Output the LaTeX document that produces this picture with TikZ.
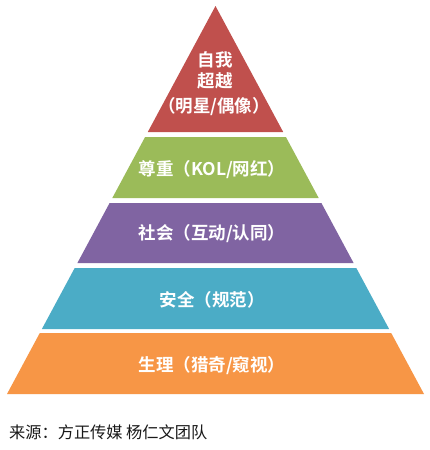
\documentclass[tikz,border=0pt]{standalone}
\usepackage{fontspec}
\setmainfont{Noto Sans CJK SC}
\newfontfamily\cjk{Noto Sans CJK SC}
\newfontfamily\cjkb{Noto Sans CJK SC Bold}
\definecolor{cred}{HTML}{C0504D}
\definecolor{cgreen}{HTML}{9BBB59}
\definecolor{cpurple}{HTML}{8064A2}
\definecolor{ccyan}{HTML}{4BACC6}
\definecolor{corange}{HTML}{F79646}
\tikzset{
  layer/.style={draw=none},
  lbl/.style={text=white, font=\cjkb\fontsize{17.5}{21}\selectfont, align=center, inner sep=0pt},
  src/.style={text=black!90, font=\cjk\fontsize{16.2}{19}\selectfont, anchor=west, inner sep=0pt}
}
\begin{document}
\begin{tikzpicture}[x=1pt,y=-1pt]
\useasboundingbox (0,0) rectangle (430,450);
\fill[white] (0,0) rectangle (430,450);
% layers (apex at 215.5,6; base 7..424 at y=394)
\fill[cred, layer] (215.5,6) -- (283.2,132) -- (147.8,132) -- cycle;
\fill[cgreen, layer] (145.1,137) -- (285.9,137) -- (318.7,198) -- (112.3,198) -- cycle;
\fill[cpurple, layer] (109.6,203) -- (321.4,203) -- (353.6,263) -- (77.4,263) -- cycle;
\fill[ccyan, layer] (74.7,268) -- (356.3,268) -- (389.1,329) -- (41.9,329) -- cycle;
\fill[corange, layer] (39.8,333) -- (391.2,333) -- (424,394) -- (7,394) -- cycle;
% labels
\node[lbl] (t1a) at (215,60) {自我};
\node[lbl] (t1b) at (215,81) {超越};
\node[lbl] (t1c) at (214,107) {（明星/偶像）};
\node[lbl] (t2) at (212,170) {尊重（KOL/网红）};
\node[lbl] (t3) at (212,234) {社会（互动/认同）};
\node[lbl] (t4) at (212,300) {安全（规范）};
\node[lbl] (t5) at (212,366) {生理（猎奇/窥视）};
\node[src] (s) at (9,432) {来源：方正传媒 杨仁文团队};
\end{tikzpicture}
\end{document}
